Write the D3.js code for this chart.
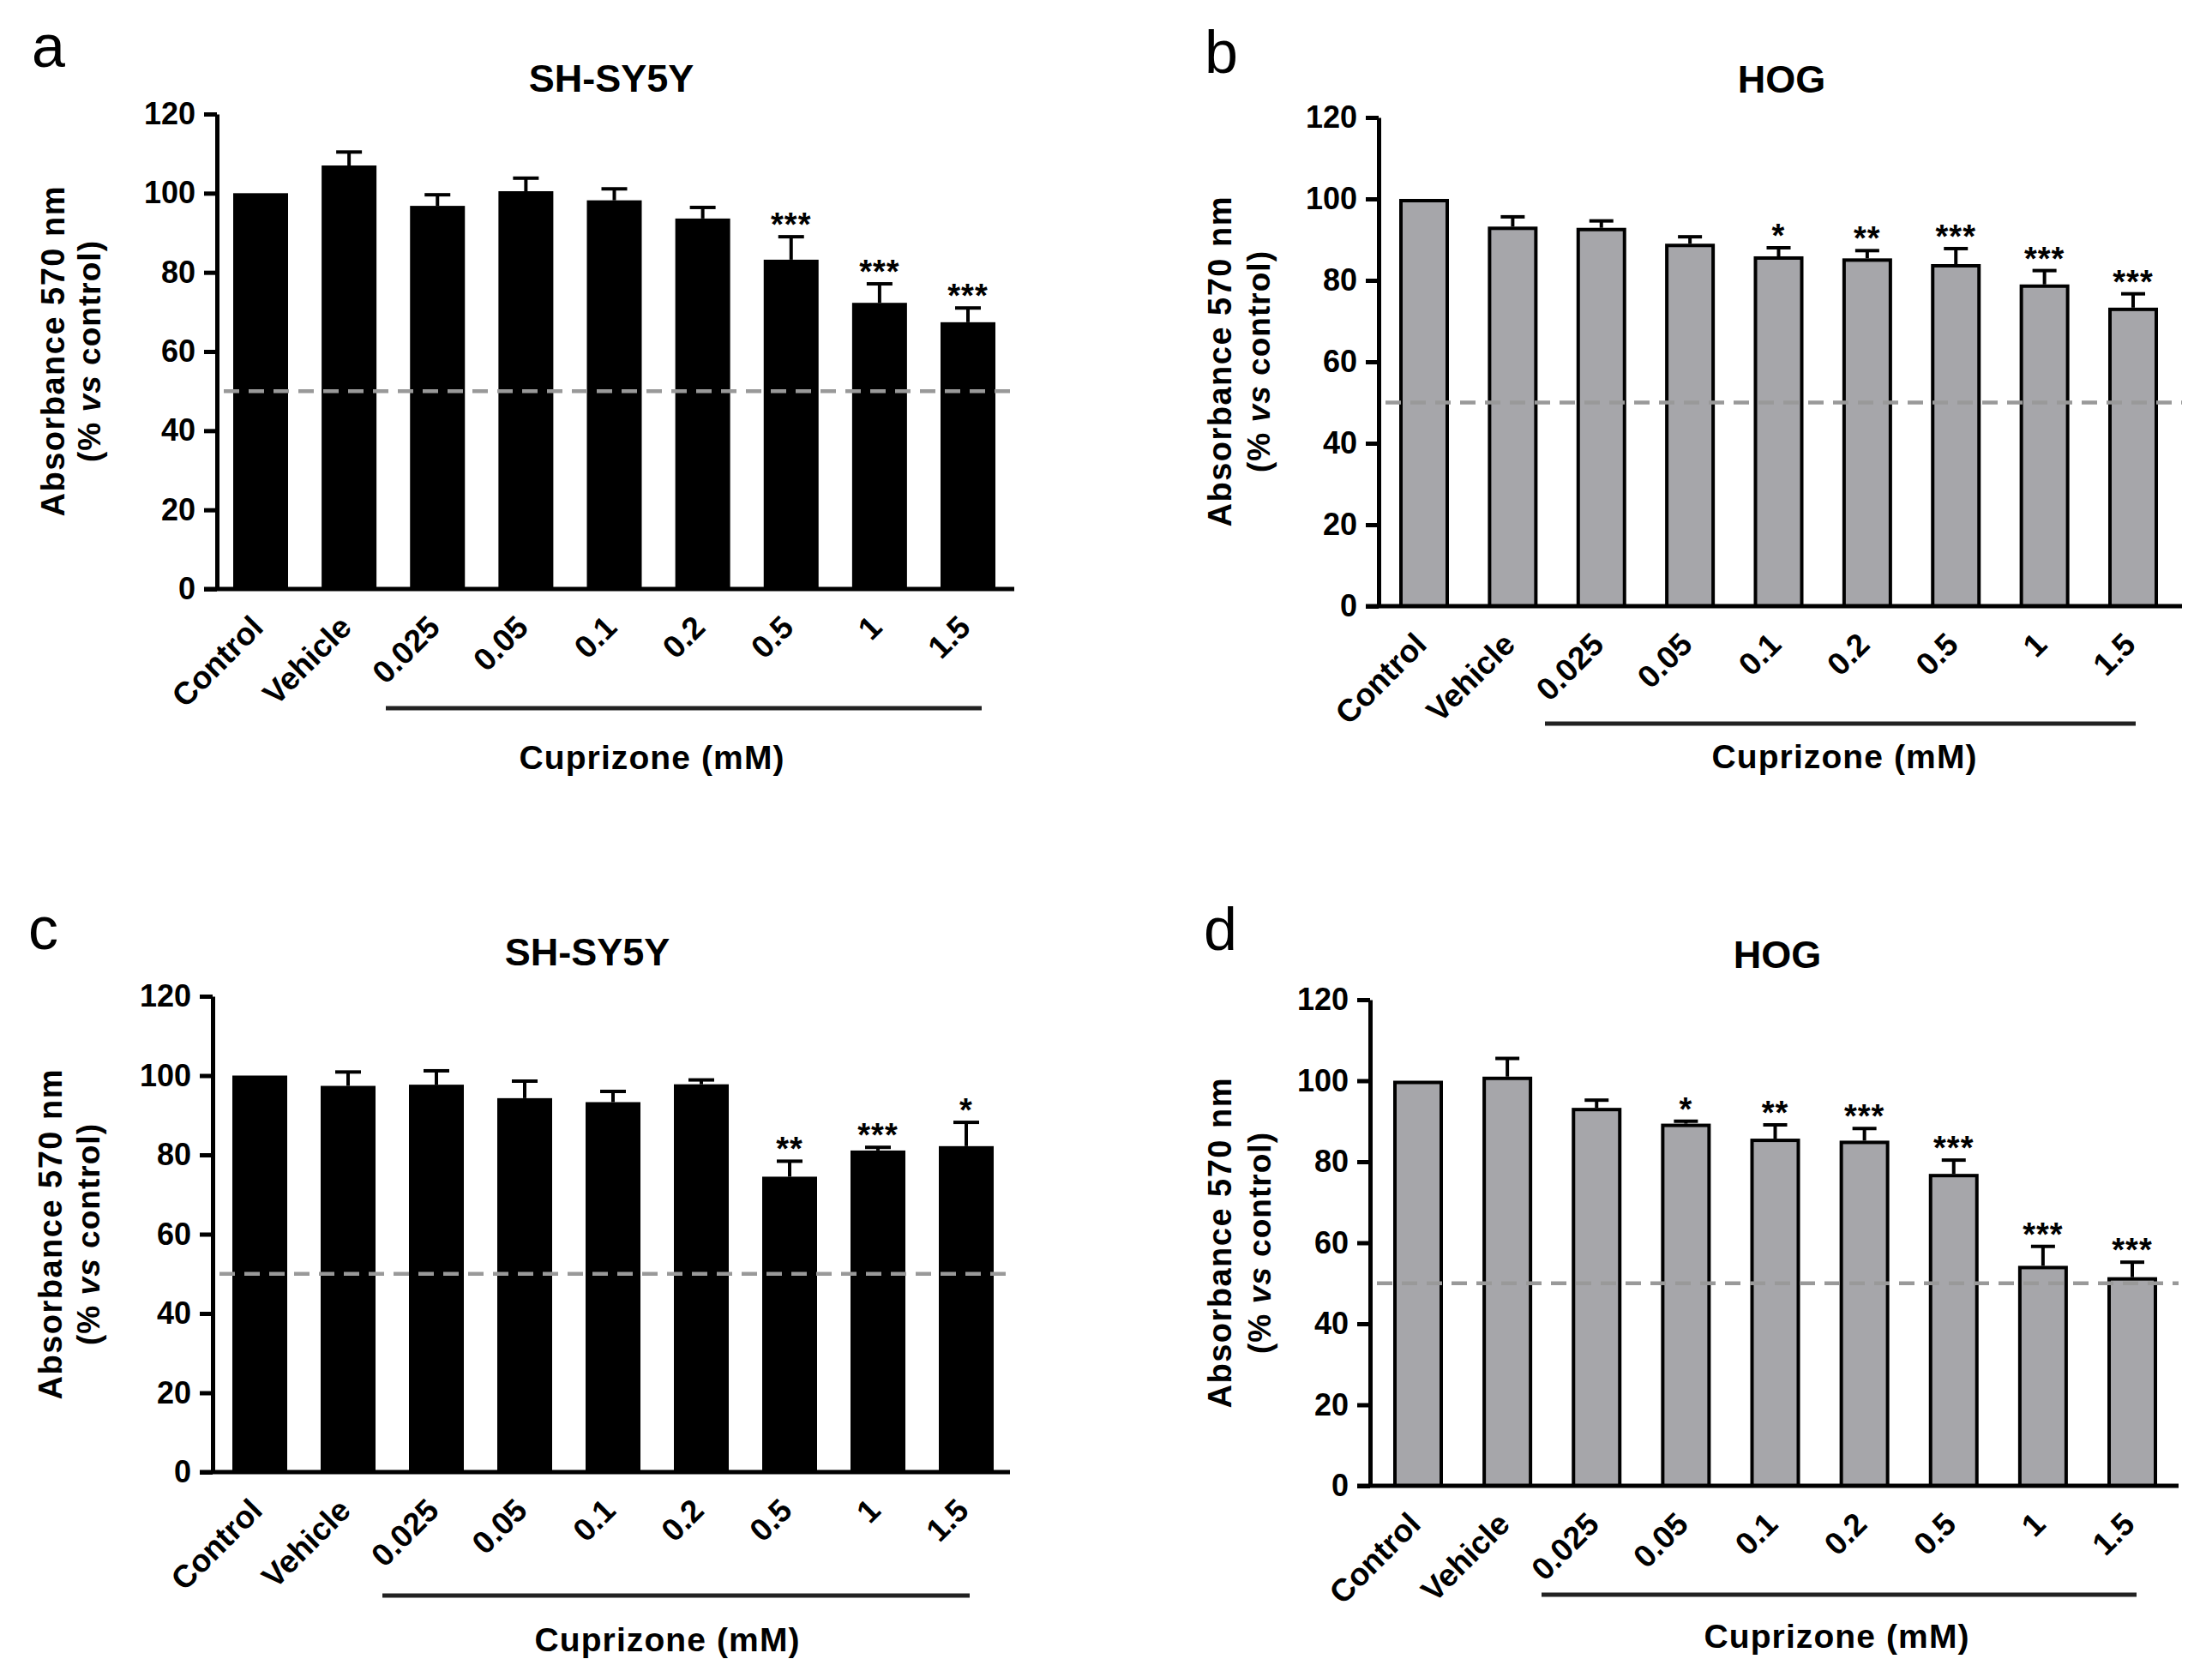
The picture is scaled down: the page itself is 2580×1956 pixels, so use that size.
<!DOCTYPE html>
<html>
<head>
<meta charset="utf-8">
<script src="https://cdn.jsdelivr.net/npm/d3@7"></script>
<style>
  html, body { margin: 0; padding: 0; background: #fff; }
  svg { display: block; }
  text { font-family: "Liberation Sans", Arial, sans-serif; fill: #000; }
</style>
</head>
<body>
<svg id="chart" width="2580" height="1956"></svg>
<script>
// ---------------- data ----------------
const categories = ["Control", "Vehicle", "0.025", "0.05", "0.1", "0.2", "0.5", "1", "1.5"];
const yTicks = [0, 20, 40, 60, 80, 100, 120];
const panelLetters = ["a", "b", "c", "d"];
const panelTitles = ["SH-SY5Y", "HOG", "SH-SY5Y", "HOG"];
const yLabelLine1 = "Absorbance 570 nm";
const xGroupLabel = "Cuprizone (mM)";
const thresholdValue = 50;

const aMean = [100, 107.0, 96.8, 100.5, 98.2, 93.6, 83.2, 72.3, 67.4];
const aErr  = [0, 3.4, 2.8, 3.3, 2.9, 2.8, 5.8, 4.8, 3.6];
const aSig  = ["", "", "", "", "", "", "***", "***", "***"];

const bMean = [100, 93.2, 92.9, 89.0, 85.9, 85.4, 84.0, 79.0, 73.3];
const bErr  = [0, 2.4, 1.7, 1.7, 2.1, 1.9, 3.8, 3.4, 3.4];
const bSig  = ["", "", "", "", "*", "**", "***", "***", "***"];

const cMean = [100, 97.4, 97.7, 94.3, 93.3, 97.8, 74.5, 81.1, 82.2];
const cErr  = [0, 3.5, 3.5, 4.3, 2.7, 1.1, 3.9, 0.8, 6.0];
const cSig  = ["", "", "", "", "", "", "**", "***", "*"];

const dMean = [100, 101.0, 93.3, 89.4, 85.7, 85.2, 77.0, 54.3, 51.5];
const dErr  = [0, 4.5, 1.9, 0.6, 3.4, 3.0, 3.4, 4.8, 3.7];
const dSig  = ["", "", "", "*", "**", "***", "***", "***", "***"];

// ---------------- layout ----------------
const layouts = [
  {axisX: 253, xEnd: 1183, yTop: 133, yZero: 687, c0: 304, c8: 1129, bw: 64,
   letterX: 37, letterY: 78, titleX: 713, titleY: 107,
   yl1X: 75, yl2X: 117, ylY: 410, ulX0: 450, ulX1: 1145, ulY: 826, cupX: 760, cupY: 897},
  {axisX: 1608, xEnd: 2545, yTop: 137, yZero: 707, c0: 1661, c8: 2488, bw: 58,
   letterX: 1405, letterY: 85, titleX: 2078, titleY: 108,
   yl1X: 1436, yl2X: 1481, ylY: 422, ulX0: 1802, ulX1: 2491, ulY: 844, cupX: 2151, cupY: 896},
  {axisX: 248, xEnd: 1178, yTop: 1162, yZero: 1717, c0: 303, c8: 1127, bw: 64,
   letterX: 33, letterY: 1107, titleX: 685, titleY: 1126,
   yl1X: 72, yl2X: 116, ylY: 1440, ulX0: 446, ulX1: 1131, ulY: 1861, cupX: 778, cupY: 1926},
  {axisX: 1598, xEnd: 2541, yTop: 1166, yZero: 1733, c0: 1654, c8: 2487, bw: 58,
   letterX: 1404, letterY: 1108, titleX: 2073, titleY: 1129,
   yl1X: 1436, yl2X: 1482, ylY: 1450, ulX0: 1798, ulX1: 2492, ulY: 1860, cupX: 2142, cupY: 1922}
];

const panels = [
  {mean: aMean, err: aErr, sig: aSig, fill: "#000000", stroke: "none", sw: 0},
  {mean: bMean, err: bErr, sig: bSig, fill: "#a6a6aa", stroke: "#000000", sw: 4},
  {mean: cMean, err: cErr, sig: cSig, fill: "#000000", stroke: "none", sw: 0},
  {mean: dMean, err: dErr, sig: dSig, fill: "#a6a6aa", stroke: "#000000", sw: 4}
];

const svg = d3.select("#chart");
svg.append("rect").attr("width", 2580).attr("height", 1956).attr("fill", "#fff");

panels.forEach((p, i) => {
  const L = layouts[i];
  const g = svg.append("g");
  const step = (L.c8 - L.c0) / (categories.length - 1);
  const pad = 1 - L.bw / step;

  const x = d3.scaleBand()
    .domain(categories)
    .range([L.c0 - step / 2, L.c8 + step / 2])
    .paddingInner(pad)
    .paddingOuter(pad / 2);

  const y = d3.scaleLinear().domain([0, 120]).range([L.yZero, L.yTop]);

  const rows = categories.map((c, k) => ({cat: c, mean: p.mean[k], err: p.err[k], sig: p.sig[k]}));

  // panel letter
  g.append("text").attr("x", L.letterX).attr("y", L.letterY)
    .attr("font-size", 70).attr("font-weight", "normal").text(panelLetters[i]);

  // title
  g.append("text").attr("x", L.titleX).attr("y", L.titleY)
    .attr("text-anchor", "middle").attr("font-size", 45).attr("font-weight", "bold")
    .text(panelTitles[i]);

  // bars
  const inset = p.sw / 2;
  g.selectAll("rect.bar").data(rows).join("rect").attr("class", "bar")
    .attr("x", d => x(d.cat) + inset)
    .attr("width", x.bandwidth() - 2 * inset)
    .attr("y", d => y(d.mean) + inset)
    .attr("height", d => y(0) - y(d.mean) - inset)
    .attr("fill", p.fill)
    .attr("stroke", p.stroke)
    .attr("stroke-width", p.sw);

  // error bars (upper only)
  const eb = rows.filter(d => d.err > 0);
  const cap = p.sw > 0 ? 14 : 15;
  g.selectAll("line.stem").data(eb).join("line").attr("class", "stem")
    .attr("x1", d => x(d.cat) + x.bandwidth() / 2).attr("x2", d => x(d.cat) + x.bandwidth() / 2)
    .attr("y1", d => y(d.mean)).attr("y2", d => y(d.mean + d.err))
    .attr("stroke", "#000").attr("stroke-width", 4);
  g.selectAll("line.cap").data(eb).join("line").attr("class", "cap")
    .attr("x1", d => x(d.cat) + x.bandwidth() / 2 - cap).attr("x2", d => x(d.cat) + x.bandwidth() / 2 + cap)
    .attr("y1", d => y(d.mean + d.err)).attr("y2", d => y(d.mean + d.err))
    .attr("stroke", "#000").attr("stroke-width", 4);

  // significance
  g.selectAll("text.sig").data(rows.filter(d => d.sig)).join("text").attr("class", "sig")
    .attr("x", d => x(d.cat) + x.bandwidth() / 2)
    .attr("y", d => y(d.mean + d.err) - 1)
    .attr("text-anchor", "middle").attr("font-size", 38).attr("font-weight", "bold")
    .attr("letter-spacing", 1)
    .text(d => d.sig);

  // dashed 50% line
  g.append("line")
    .attr("x1", L.axisX + 8).attr("x2", L.xEnd)
    .attr("y1", y(thresholdValue)).attr("y2", y(thresholdValue))
    .attr("stroke", "#999999").attr("stroke-width", 4.5)
    .attr("stroke-dasharray", "18,11");

  // y axis
  const yAxis = g.append("g").attr("transform", `translate(${L.axisX},0)`)
    .call(d3.axisLeft(y).tickValues(yTicks).tickSize(15).tickSizeOuter(0).tickPadding(10));
  yAxis.select(".domain").attr("stroke", "#000").attr("stroke-width", 5);
  yAxis.selectAll(".tick line").attr("stroke", "#000").attr("stroke-width", 5);
  yAxis.selectAll(".tick text").attr("font-size", 36).attr("font-weight", "bold")
    .attr("font-family", "'Liberation Sans', Arial, sans-serif").attr("fill", "#000");

  // x axis
  const xAxis = g.append("g").attr("transform", `translate(0,${L.yZero})`)
    .call(d3.axisBottom(x).tickSize(0));
  xAxis.select(".domain").remove();
  xAxis.selectAll(".tick text")
    .attr("x", 0).attr("y", 0).attr("dy", 0)
    .attr("transform", "translate(5,47) rotate(-45)")
    .attr("text-anchor", "end")
    .attr("font-size", 37).attr("font-weight", "bold")
    .attr("font-family", "'Liberation Sans', Arial, sans-serif").attr("fill", "#000");
  g.append("line")
    .attr("x1", L.axisX - 15).attr("x2", L.xEnd)
    .attr("y1", y(0)).attr("y2", y(0))
    .attr("stroke", "#000").attr("stroke-width", 5);

  // y axis label
  const yl = g.append("g").attr("font-weight", "bold");
  yl.append("text")
    .attr("transform", `translate(${L.yl1X},${L.ylY}) rotate(-90)`)
    .attr("text-anchor", "middle").attr("font-size", 38)
    .attr("textLength", 385).attr("lengthAdjust", "spacing")
    .text(yLabelLine1);
  const t2 = yl.append("text")
    .attr("transform", `translate(${L.yl2X},${L.ylY}) rotate(-90)`)
    .attr("text-anchor", "middle").attr("font-size", 37)
    .attr("textLength", 258).attr("lengthAdjust", "spacing");
  t2.append("tspan").text("(% ");
  t2.append("tspan").attr("font-style", "italic").text("vs");
  t2.append("tspan").text(" control)");

  // group underline and label
  g.append("line")
    .attr("x1", L.ulX0).attr("x2", L.ulX1).attr("y1", L.ulY).attr("y2", L.ulY)
    .attr("stroke", "#222").attr("stroke-width", 5);
  g.append("text").attr("x", L.cupX).attr("y", L.cupY)
    .attr("text-anchor", "middle").attr("font-size", 39).attr("font-weight", "bold")
    .attr("textLength", 309).attr("lengthAdjust", "spacing")
    .text(xGroupLabel);
});
</script>
</body>
</html>
